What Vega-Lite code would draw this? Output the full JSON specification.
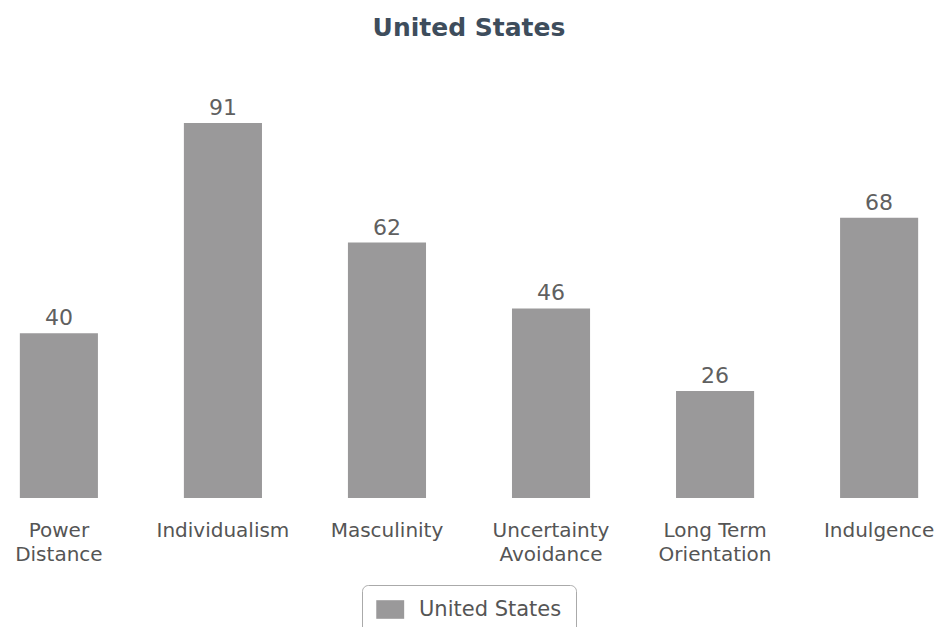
{
  "$schema": "https://vega.github.io/schema/vega-lite/v6.json",
  "width": 918,
  "height": 412,
  "autosize": "none",
  "padding": {"left": 10, "top": 86, "right": 17, "bottom": 129},
  "background": "white",
  "title": {
    "text": "United States",
    "anchor": "middle",
    "frame": "group",
    "font": "DejaVu Sans",
    "fontSize": 25,
    "fontWeight": "bold",
    "color": "#3e4d5c",
    "baseline": "alphabetic",
    "offset": 25
  },
  "data": {
    "values": [
      {"dimension": "Power Distance", "score": 40, "country": "United States"},
      {"dimension": "Individualism", "score": 91, "country": "United States"},
      {"dimension": "Masculinity", "score": 62, "country": "United States"},
      {"dimension": "Uncertainty Avoidance", "score": 46, "country": "United States"},
      {"dimension": "Long Term Orientation", "score": 26, "country": "United States"},
      {"dimension": "Indulgence", "score": 68, "country": "United States"}
    ]
  },
  "encoding": {
    "x": {
      "field": "dimension",
      "type": "nominal",
      "sort": null,
      "scale": {"paddingInner": 0.524, "paddingOuter": 0.06},
      "axis": {
        "title": null,
        "domain": false,
        "ticks": false,
        "tickSize": 0,
        "labelAngle": 0,
        "labelPadding": 22,
        "labelBaseline": "top",
        "labelFont": "DejaVu Sans",
        "labelFontSize": 20,
        "labelColor": "#555555",
        "labelLineHeight": 24,
        "labelExpr": "datum.value == 'Power Distance' ? ['Power', 'Distance'] : datum.value == 'Uncertainty Avoidance' ? ['Uncertainty', 'Avoidance'] : datum.value == 'Long Term Orientation' ? ['Long Term', 'Orientation'] : datum.value"
      }
    },
    "y": {
      "field": "score",
      "type": "quantitative",
      "scale": {"domain": [0, 100], "nice": false},
      "axis": null
    }
  },
  "layer": [
    {
      "mark": {"type": "bar"},
      "encoding": {
        "color": {
          "field": "country",
          "type": "nominal",
          "scale": {"range": ["#9a999a"]},
          "legend": {
            "title": null,
            "orient": "none",
            "legendX": 352,
            "legendY": 499,
            "direction": "horizontal",
            "strokeColor": "#aaaaaa",
            "fillColor": "white",
            "cornerRadius": 6,
            "padding": 14,
            "symbolType": "M-1.1,-1L1.9,-1L1.9,1L-1.1,1Z",
            "symbolSize": 346,
            "symbolStrokeWidth": 0,
            "symbolOpacity": 1,
            "labelFont": "DejaVu Sans",
            "labelFontSize": 21,
            "labelColor": "#555555",
            "labelOffset": 22
          }
        }
      }
    },
    {
      "mark": {
        "type": "text",
        "baseline": "alphabetic",
        "dy": -8,
        "font": "DejaVu Sans",
        "fontSize": 22,
        "color": "#606060"
      },
      "encoding": {
        "text": {"field": "score", "type": "quantitative"}
      }
    }
  ],
  "config": {
    "view": {"stroke": null}
  }
}
